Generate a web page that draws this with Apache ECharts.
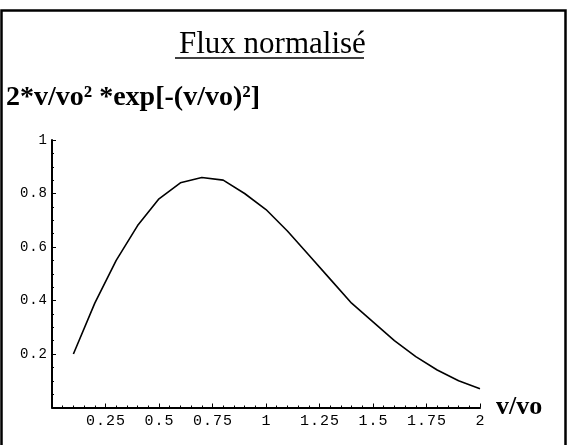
<!DOCTYPE html>
<html>
<head>
<meta charset="utf-8">
<script src="https://cdn.jsdelivr.net/npm/echarts@6/dist/echarts.min.js"></script>
<style>
html,body{margin:0;padding:0;background:#fff;}
#chart{width:571px;height:445px;}
</style>
</head>
<body>
<div id="chart"></div>
<script>
// Data
var vRatio = [0.1, 0.2, 0.3, 0.4, 0.5, 0.6, 0.7, 0.8, 0.9, 1.0, 1.1, 1.2, 1.3, 1.4, 1.5, 1.6, 1.7, 1.8, 1.9, 2.0];
var flux   = [0.20, 0.39, 0.55, 0.68, 0.78, 0.84, 0.86, 0.85, 0.80, 0.74, 0.66, 0.57, 0.48, 0.39, 0.32, 0.25, 0.19, 0.14, 0.10, 0.07];
var xTicks = [0.25, 0.5, 0.75, 1, 1.25, 1.5, 1.75, 2];
var yTicks = [0.2, 0.4, 0.6, 0.8, 1];
var titleText = 'Flux normalisé';
var yLabel = '2*v/vo² *exp[-(v/vo)²]';
var xLabel = 'v/vo';

var points = vRatio.map(function (v, i) { return [v, flux[i]]; });
function spaced(s) { return String(s).split('').join('\u200a'); }

var chart = echarts.init(document.getElementById('chart'), null, {renderer: 'canvas'});
chart.setOption({
  animation: false,
  backgroundColor: '#fff',
  title: {
    text: titleText,
    left: 174, top: 24,
    textStyle: {fontFamily: 'Liberation Serif', fontWeight: 'normal', fontSize: 31, color: '#000'}
  },
  graphic: [
    {type: 'rect', shape: {x: 1.5, y: 10.5, width: 564, height: 450},
     style: {fill: 'none', stroke: '#000', lineWidth: 2.5}, silent: true},
    {type: 'line', shape: {x1: 175, y1: 58, x2: 364, y2: 58},
     style: {stroke: '#000', lineWidth: 1.5}, silent: true},
    {type: 'text', left: 6, top: 84,
     style: {text: yLabel, font: 'bold 28px "Liberation Serif"', fill: '#000'}}
  ],
  grid: {left: 52, right: 91, top: 140, bottom: 37.5, containLabel: false},
  xAxis: {
    type: 'value', min: 0, max: 2, interval: 0.25,
    name: xLabel, nameLocation: 'end', nameGap: 16,
    nameTextStyle: {fontFamily: 'Liberation Serif', fontWeight: 'bold', fontSize: 26, color: '#000', verticalAlign: 'middle'},
    axisLine: {show: true, onZero: false, lineStyle: {color: '#000', width: 2}},
    axisTick: {show: true, inside: true, length: 4, lineStyle: {color: '#000', width: 1}},
    minorTick: {show: true, splitNumber: 5, length: 2, lineStyle: {color: '#000', width: 1}},
    splitLine: {show: false},
    axisLabel: {
      show: true, margin: 6, color: '#000',
      fontFamily: 'Liberation Mono', fontSize: 15,
      formatter: function (v) { return xTicks.indexOf(v) >= 0 ? spaced(v) : ''; }
    }
  },
  yAxis: {
    type: 'value', min: 0, max: 1, interval: 0.2,
    axisLine: {show: true, onZero: false, lineStyle: {color: '#000', width: 2}},
    axisTick: {show: true, inside: true, length: 4, lineStyle: {color: '#000', width: 1}},
    minorTick: {show: true, splitNumber: 4, length: 2, lineStyle: {color: '#000', width: 1}},
    splitLine: {show: false},
    axisLabel: {
      show: true, margin: 5, color: '#000',
      fontFamily: 'Liberation Mono', fontSize: 14,
      formatter: function (v) { return yTicks.indexOf(+v.toFixed(2)) >= 0 ? spaced(+v.toFixed(2)) : ''; }
    }
  },
  series: [{
    type: 'line', data: points, showSymbol: false, smooth: false,
    lineStyle: {color: '#000', width: 1.6}
  }]
});
</script>
</body>
</html>
